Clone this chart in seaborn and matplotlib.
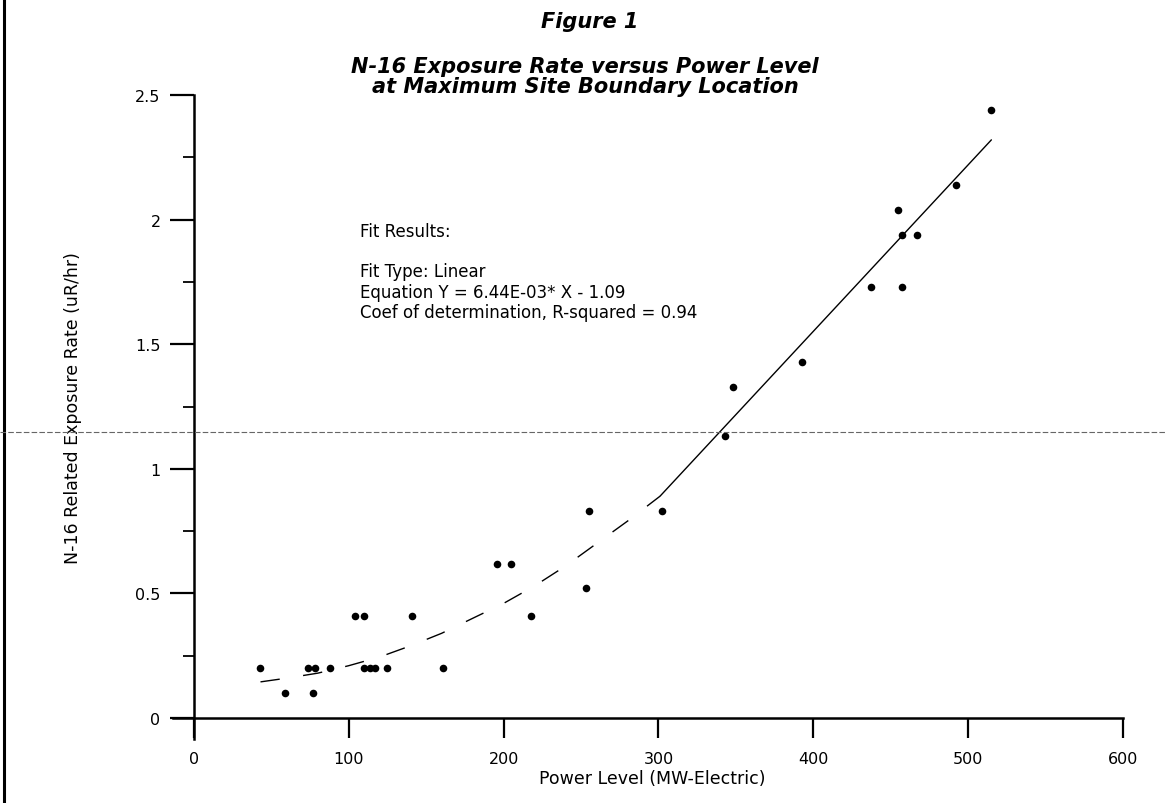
import matplotlib
matplotlib.use("Agg")
import matplotlib.pyplot as plt
import seaborn as sns
import pandas as pd
from matplotlib.lines import Line2D
from matplotlib.ticker import MultipleLocator, FixedLocator

# ---- data ----
power_mw = [43, 59, 77, 74, 78, 88, 104, 110, 110, 114, 117, 125, 141, 161,
            196, 205, 218, 253, 255, 302, 343, 348, 393, 437, 457, 455, 457,
            467, 492, 515]
exposure = [0.20, 0.10, 0.10, 0.20, 0.20, 0.20, 0.41, 0.41, 0.20, 0.20, 0.20,
            0.20, 0.41, 0.20, 0.62, 0.62, 0.41, 0.52, 0.83, 0.83, 1.13, 1.33,
            1.43, 1.73, 1.73, 2.04, 1.94, 1.94, 2.14, 2.44]

curve_x = [43, 60, 80, 100, 120, 140, 160, 180, 200, 220, 240, 260, 280, 301]
curve_y = [0.145, 0.16, 0.18, 0.21, 0.245, 0.29, 0.34, 0.40, 0.46, 0.53,
           0.61, 0.70, 0.79, 0.89]

fit_x = [301, 515]
fit_y = [0.89, 2.32]

x_ticks = [0, 100, 200, 300, 400, 500, 600]
y_ticks = [0, 0.5, 1, 1.5, 2, 2.5]
y_tick_labels = ["0", "0.5", "1", "1.5", "2", "2.5"]

title_top = "Figure 1"
title_main = "N-16 Exposure Rate versus Power Level\nat Maximum Site Boundary Location"
x_label = "Power Level (MW-Electric)"
y_label = "N-16 Related Exposure Rate (uR/hr)"
fit_lines = ["Fit Results:", "", "Fit Type: Linear",
             "Equation Y = 6.44E-03* X - 1.09",
             "Coef of determination, R-squared = 0.94"]

# ---- figure ----
sns.set_theme(style="white")
plt.rcParams["font.family"] = ["DejaVu Sans"]

W, H = 1167, 804
fig = plt.figure(figsize=(W / 100, H / 100), dpi=100)
fig.patch.set_facecolor("white")

def fx(px):
    return px / W

def fy(py):
    return 1 - py / H

# axes box: x from px 173 (x=-13.5) to 1123 (x=600); y from 740 (y=-0.085) to 96 (y=2.5)
ax = fig.add_axes([fx(173), fy(740.2), (1123 - 173) / W, (740.2 - 96) / H])
ax.set_facecolor("white")
ax.set_xlim(-13.5, 600)
ax.set_ylim(-0.085, 2.5)

pts = pd.DataFrame({"power": power_mw, "rate": exposure})
curve = pd.DataFrame({"power": curve_x, "rate": curve_y})
fit = pd.DataFrame({"power": fit_x, "rate": fit_y})

sns.lineplot(data=curve, x="power", y="rate", ax=ax, color="black", lw=1.0,
             sort=False, estimator=None, linestyle=(0, (14, 17)))
sns.lineplot(data=fit, x="power", y="rate", ax=ax, color="black", lw=1.0,
             sort=False, estimator=None)
sns.scatterplot(data=pts, x="power", y="rate", ax=ax, color="black", s=30,
                edgecolor="black", linewidth=0, zorder=5)

for side in ("top", "right"):
    ax.spines[side].set_visible(False)
ax.spines["left"].set_position(("data", 0))
ax.spines["bottom"].set_position(("data", 0))
for side in ("left", "bottom"):
    ax.spines[side].set_color("black")
    ax.spines[side].set_linewidth(1.8)

ax.xaxis.set_major_locator(FixedLocator(x_ticks))
ax.set_xticklabels([str(v) for v in x_ticks])
ax.yaxis.set_major_locator(FixedLocator(y_ticks))
ax.set_yticklabels(y_tick_labels)
ax.yaxis.set_minor_locator(MultipleLocator(0.25))
ax.tick_params(axis="x", which="major", direction="out", length=14.5, width=1.6,
               color="black", pad=9, labelsize=11.5, labelcolor="black",
               bottom=True)
ax.tick_params(axis="y", which="major", direction="out", length=17, width=1.6,
               color="black", pad=7, labelsize=11.5, labelcolor="black",
               left=True)
ax.tick_params(axis="y", which="minor", direction="out", length=8, width=1.3,
               color="black", left=True)

ax.set_xlabel(x_label, fontsize=12.5, color="black")
ax.xaxis.label.set_va("center")
ax.xaxis.set_label_coords((652 - 173) / 950, (740.2 - 779) / 644.2)
ax.set_ylabel(y_label, fontsize=12.5, color="black")
ax.yaxis.label.set_va("center")
ax.yaxis.set_label_coords((73 - 173) / 950, (740.2 - 408) / 644.2)

# titles
fig.text(fx(590), fy(22), title_top, ha="center", va="center", fontsize=15,
         fontweight="bold", fontstyle="italic", color="black")
fig.text(fx(585), fy(77), title_main, ha="center", va="center", fontsize=15,
         fontweight="bold", fontstyle="italic", color="black", linespacing=1.05)

# fit results annotation
fig.text(fx(360), fy(232), fit_lines[0], ha="left", va="center", fontsize=12,
         color="black")
for i, line in enumerate(fit_lines[2:]):
    fig.text(fx(360), fy(272 + 20.5 * i), line, ha="left", va="center",
             fontsize=12, color="black")

# scan artefacts: page frame on the left and a faint horizontal streak
fig.add_artist(Line2D([fx(3.5), fx(3.5)], [0, 1], transform=fig.transFigure,
                      color="black", lw=2.2))
fig.add_artist(Line2D([0, 1], [fy(433), fy(433)], transform=fig.transFigure,
                      color="0.4", lw=0.8, linestyle=(0, (5, 2))))

fig.savefig("out.png", dpi=100, facecolor="white")
